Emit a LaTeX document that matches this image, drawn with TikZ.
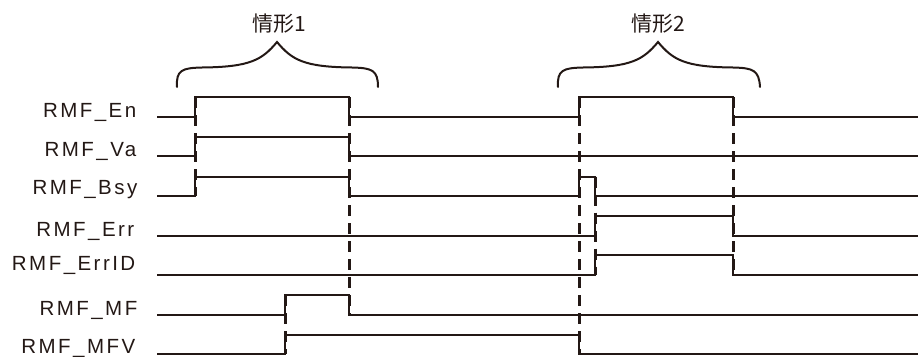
\documentclass[tikz,border=0pt]{standalone}
\usepackage{fontspec}
\setmainfont{Liberation Sans}
\newfontfamily\sigfont[LetterSpace=12]{Liberation Sans}
\newfontfamily\cjk{Noto Sans CJK SC}
\definecolor{ink}{HTML}{231815}
\begin{document}
\begin{tikzpicture}[x=1pt,y=-1pt,
  sig/.style={draw=ink,line width=2pt,line join=miter},
  guide/.style={draw=ink,line width=3pt,dash pattern=on 11pt off 7pt},
  brace/.style={draw=ink,line width=2pt,line cap=round},
  lbl/.style={anchor=base east,inner sep=0pt,font=\sigfont\fontsize{20.5}{22}\selectfont,text=ink},
  case/.style={anchor=base,inner sep=0pt,font=\cjk\fontsize{21}{24}\selectfont,text=ink}]
\useasboundingbox (0,0) rectangle (918,356);
% labels
\node[lbl] (lEn)    at (136.5,117) {RMF\_En};
\node[lbl] (lVa)    at (136.5,156) {RMF\_Va};
\node[lbl] (lBsy)   at (137.5,194.5) {RMF\_Bsy};
\node[lbl] (lErr)   at (134.5,236) {RMF\_Err};
\node[lbl] (lErrID) at (135.5,270) {RMF\_ErrID};
\node[lbl] (lMF)    at (137.5,315) {RMF\_MF};
\node[lbl] (lMFV)   at (135.5,353) {RMF\_MFV};
\node[case] (c1) at (279,31) {情形1};
\node[case] (c2) at (658,31) {情形2};
% guides
\draw[guide] (195,97) -- (195,195.5);
\draw[guide] (349,97) -- (349,315);
\draw[guide] (285,295) -- (285,354);
\draw[guide] (579,97) -- (579,354);
\draw[guide] (595,176.5) -- (595,275);
\draw[guide] (733,97) -- (733,275);
% signals
\draw[sig] (157,117) -- (195,117) -- (195,97) -- (349,97) -- (349,117) -- (579,117) -- (579,97) -- (733,97) -- (733,117) -- (918,117);
\draw[sig] (157,156) -- (195,156) -- (195,137) -- (349,137) -- (349,156) -- (918,156);
\draw[sig] (157,195.5) -- (195,195.5) -- (195,176.5) -- (349,176.5) -- (349,195.5) -- (579,195.5) -- (579,176.5) -- (595,176.5) -- (595,195.5) -- (918,195.5);
\draw[sig] (157,236) -- (595,236) -- (595,215.5) -- (733,215.5) -- (733,236) -- (918,236);
\draw[sig] (157,275) -- (595,275) -- (595,255) -- (733,255) -- (733,275) -- (918,275);
\draw[sig] (157,315) -- (285,315) -- (285,295) -- (349,295) -- (349,315) -- (918,315);
\draw[sig] (157,354) -- (285,354) -- (285,335) -- (579,335) -- (579,354) -- (918,354);
% braces
\draw[brace] (177,87) .. controls (176,70) and (182,68) .. (202,67.5)
  .. controls (250,67) and (262,60) .. (277,42)
  .. controls (292,60) and (304,67) .. (352,67.5)
  .. controls (372,68) and (378,70) .. (378,87);
\draw[brace] (558,87) .. controls (557,70) and (563,68) .. (583,67.5)
  .. controls (631,67) and (643,60) .. (658,42)
  .. controls (673,60) and (685,67) .. (733,67.5)
  .. controls (753,68) and (759,70) .. (760,87);
\end{tikzpicture}
\end{document}
